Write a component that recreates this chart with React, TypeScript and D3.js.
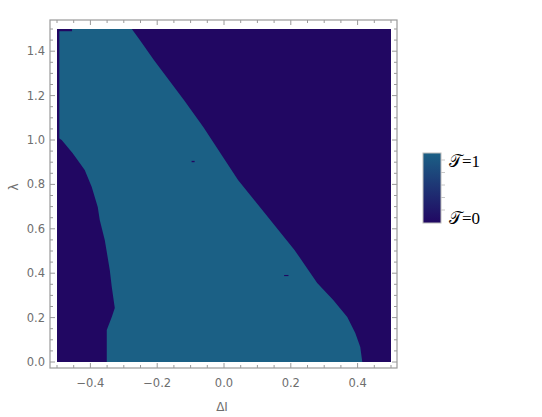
import React from "react";
import * as d3 from "d3";

// Right boundary of the T=1 region (lambda -> delta)
const lambdaRight = [0, 0.068, 0.131, 0.203, 0.279, 0.356, 0.505, 0.82, 0.941, 1.059, 1.18, 1.36, 1.45, 1.5];
const deltaRight = [0.414, 0.408, 0.393, 0.369, 0.327, 0.279, 0.211, 0.042, -0.011, -0.062, -0.12, -0.21, -0.252, -0.276];

// Left boundary of the T=1 region (lambda -> delta)
const lambdaLeft = [0, 0.1, 0.144, 0.203, 0.243, 0.338, 0.414, 0.55, 0.64, 0.698, 0.788, 0.865, 0.94, 1.0, 1.013];
const deltaLeft = [-0.351, -0.351, -0.351, -0.336, -0.327, -0.336, -0.342, -0.357, -0.372, -0.378, -0.396, -0.417, -0.453, -0.486, -0.5];

// Small isolated T=0 patches: [delta0, delta1, lambda0, lambda1]
const patches: [number, number, number, number][] = [
  [-0.5, -0.493, 1.0, 1.5],
  [-0.5, -0.455, 1.49, 1.5],
  [-0.097, -0.088, 0.9, 0.906],
  [0.18, 0.193, 0.387, 0.392],
];

const xMajor = [-0.4, -0.2, 0.0, 0.2, 0.4];
const yMajor = [0.0, 0.2, 0.4, 0.6, 0.8, 1.0, 1.2, 1.4];
const legendLabels = ["𝒯=1", "𝒯=0"];

const colT1 = "#1b6085";
const colT0 = "#210762";

export default function App() {
  const x = d3.scaleLinear().domain([-0.5, 0.5]).range([57, 391]);
  const y = d3.scaleLinear().domain([0, 1.5]).range([362, 29]);
  const fL = { l: 50, r: 397, t: 20, b: 368 };

  const leftPts: [number, number][] = lambdaLeft.map((l, i) => [deltaLeft[i], l]);
  const rightPts: [number, number][] = lambdaRight.map((l, i) => [deltaRight[i], l]).reverse() as [number, number][];
  const poly: [number, number][] = [
    ...leftPts,
    [-0.5, 1.5],
    ...rightPts,
  ];
  const line = d3.line<[number, number]>().x((d) => x(d[0])).y((d) => y(d[1]));
  const path = line(poly) + "Z";

  const xMinor = d3.range(-0.5, 0.5001, 0.05).map((v) => +v.toFixed(2));
  const yMinor = d3.range(0, 1.5001, 0.05).map((v) => +v.toFixed(2));
  const isMajor = (v: number, arr: number[]) => arr.some((a) => Math.abs(a - v) < 1e-6);

  const tickCol = "#9a9a9a";
  const labCol = "#6e6e6e";
  const font = "'DejaVu Sans', sans-serif";

  return (
    <svg width={542} height={417} style={{ position: "absolute", left: 0, top: 0 }}>
      <rect x={0} y={0} width={542} height={417} fill="white" />
      <rect x={x(-0.5)} y={y(1.5)} width={x(0.5) - x(-0.5)} height={y(0) - y(1.5)} fill={colT0} />
      <path d={path} fill={colT1} />
      {patches.map((p, i) => (
        <rect key={i} x={x(p[0])} y={y(p[3])} width={x(p[1]) - x(p[0])} height={y(p[2]) - y(p[3])} fill={colT0} />
      ))}
      <rect x={fL.l} y={fL.t} width={fL.r - fL.l} height={fL.b - fL.t} fill="none" stroke={tickCol} strokeWidth={1.2} />
      {xMinor.map((v, i) => {
        const len = isMajor(v, xMajor) ? 5 : 3;
        return (
          <g key={"xt" + i} stroke={tickCol} strokeWidth={1}>
            <line x1={x(v)} x2={x(v)} y1={fL.b} y2={fL.b - len} />
            <line x1={x(v)} x2={x(v)} y1={fL.t} y2={fL.t + len} />
          </g>
        );
      })}
      {yMinor.map((v, i) => {
        const len = isMajor(v, yMajor) ? 5 : 3;
        return (
          <g key={"yt" + i} stroke={tickCol} strokeWidth={1}>
            <line x1={fL.l} x2={fL.l + len} y1={y(v)} y2={y(v)} />
            <line x1={fL.r} x2={fL.r - len} y1={y(v)} y2={y(v)} />
          </g>
        );
      })}
      {xMajor.map((v, i) => (
        <text key={"xl" + i} x={x(v)} y={387} textAnchor="middle" fontSize={11.5} fill={labCol} fontFamily={font}>
          {v < 0 ? "\u2212" + Math.abs(v).toFixed(1) : v.toFixed(1)}
        </text>
      ))}
      {yMajor.map((v, i) => (
        <text key={"yl" + i} x={45} y={y(v) + 4} textAnchor="end" fontSize={11.5} fill={labCol} fontFamily={font}>
          {v.toFixed(1)}
        </text>
      ))}
      <text x={222} y={411} textAnchor="middle" fontSize={12} fill={labCol} fontFamily={font}>ΔI</text>
      <text transform="translate(18,187) rotate(-90)" textAnchor="middle" fontSize={12} fill={labCol} fontFamily={font}>λ</text>

      <defs>
        <linearGradient id="lg" x1="0" y1="0" x2="0" y2="1">
          <stop offset="0" stopColor={colT1} />
          <stop offset="1" stopColor={colT0} />
        </linearGradient>
      </defs>
      <rect x={423} y={153} width={18} height={70} fill="url(#lg)" stroke="#bcbcbc" strokeWidth={1} />
      {[160, 172.5, 185, 197.5, 210].map((ty, i) => (
        <line key={"lt" + i} x1={441} x2={445} y1={ty} y2={ty} stroke="#c8c8c8" />
      ))}
      <text x={449} y={167} fontSize={17} fontFamily="'Liberation Serif', 'DejaVu Serif', serif" fill="black">{legendLabels[0]}</text>
      <text x={449} y={224} fontSize={17} fontFamily="'Liberation Serif', 'DejaVu Serif', serif" fill="black">{legendLabels[1]}</text>
    </svg>
  );
}
